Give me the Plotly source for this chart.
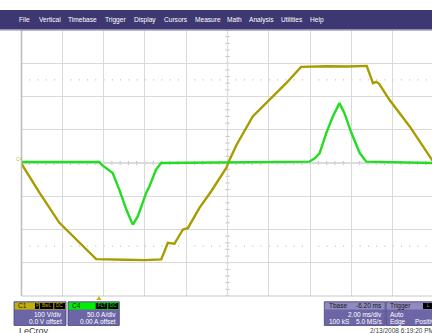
import plotly.graph_objects as go

# Screen time in ms relative to trigger (2 ms/div, trigger 6.2 ms left of centre)
c1_t = [-3.8, -2.9, -1.94, -0.96, -0.16, 1.2, 2.2, 2.99, 3.31, 3.63, 4.04, 4.28,
        4.84, 5.41, 6.14, 6.30, 6.64, 7.42, 8.24, 9.04, 9.76, 11.0, 12.0, 12.94,
        13.24, 13.40, 13.54, 14.04, 15.02, 15.98, 16.2]
c1_volts = [0, -90, -180, -240, -289, -291, -292, -290, -240, -243, -200, -196,
            -135, -85, -15, 10, 55, 140, 190, 240, 289, 291, 290, 292,
            240, 244, 238, 190, 110, 20, 0]

c4_t = [-3.8, 0.0, 0.1, 0.64, 0.96, 1.30, 1.54, 1.62, 1.86, 2.26, 2.42, 2.74,
        2.98, 10.16, 10.44, 10.66, 10.98, 11.30, 11.62, 11.86, 12.2, 12.6,
        12.92, 16.2]
c4_amps = [1.5, 1.5, -2.5, -15, -40, -70, -87.5, -92.5, -80, -45, -35, -10,
           0, 2, 7.5, 15, 45, 70, 90, 75, 45, 15, 2, 0]

menu_items = ["File", "Vertical", "Timebase", "Trigger", "Display", "Cursors",
              "Measure", "Math", "Analysis", "Utilities", "Help"]
menu_x = [16.7, 36.7, 65.7, 103.3, 131.7, 161.7, 192.7, 225, 246.7, 279.3, 308.3]

W, H = 432, 333
ML, MR, MT, MB = 21, 0, 30, 36.5
PW, PH = W - ML - MR, H - MT - MB

X0, X1 = -3.8, 16.1
CENTER_T = 6.2


def px(x):
    return (x - ML) / PW


def py(y):
    return (H - MB - y) / PH


fig = go.Figure()

fig.add_trace(go.Scatter(x=c1_t, y=c1_volts, mode="lines", yaxis="y",
                         line=dict(color="#a89c00", width=2.4), hoverinfo="skip"))
fig.add_trace(go.Scatter(x=c4_t, y=c4_amps, mode="lines", yaxis="y2",
                         line=dict(color="#22dd22", width=2.4), hoverinfo="skip"))

shapes = []
GRID = "#dadada"
# centre cross
shapes.append(dict(type="line", xref="x", yref="y", x0=X0, x1=X1, y0=0, y1=0,
                   line=dict(color="#bdbdbd", width=1), layer="below"))
shapes.append(dict(type="line", xref="x", yref="y", x0=CENTER_T, x1=CENTER_T,
                   y0=-400, y1=400, line=dict(color="#bdbdbd", width=1), layer="below"))
# minor ticks on centre cross
k = 0
while X0 + 0.4 * k <= X1:
    tx = X0 + 0.4 * k
    shapes.append(dict(type="line", xref="x", yref="y", x0=tx, x1=tx, y0=-6, y1=6,
                       line=dict(color="#bdbdbd", width=1), layer="below"))
    k += 1
for k in range(-20, 21):
    ty = 20 * k
    shapes.append(dict(type="line", xref="x", yref="y", x0=CENTER_T - 0.1,
                       x1=CENTER_T + 0.1, y0=ty, y1=ty,
                       line=dict(color="#bdbdbd", width=1), layer="below"))
# dotted level lines
for lv in (250, -250):
    shapes.append(dict(type="line", xref="x", yref="y", x0=X0 + 0.4, x1=X1, y0=lv, y1=lv,
                       line=dict(color="#b0b0b0", width=1, dash="1px,7.26px"), layer="below"))
# frame
shapes.append(dict(type="line", xref="paper", yref="paper", x0=px(21.5), x1=px(21.5),
                   y0=0, y1=1, line=dict(color="#bcbcbc", width=1.5)))
shapes.append(dict(type="line", xref="paper", yref="paper", x0=px(21.5), x1=1,
                   y0=0, y1=0, line=dict(color="#c8c8c8", width=1)))
shapes.append(dict(type="line", xref="paper", yref="paper", x0=px(21.5), x1=1,
                   y0=1, y1=1, line=dict(color="#d6d6d6", width=1)))
# menu bar
shapes.append(dict(type="rect", xref="paper", yref="paper", x0=px(0), x1=px(W),
                   y0=py(29.5), y1=py(10), fillcolor="#3e3872", line=dict(width=0)))
shapes.append(dict(type="rect", xref="paper", yref="paper", x0=px(0), x1=px(W),
                   y0=py(30.5), y1=py(29.5), fillcolor="#8a86b8", line=dict(width=0)))
# trigger marker
shapes.append(dict(type="path", xref="paper", yref="paper",
                   path=f"M {px(96.5)} {py(300.5)} L {px(101.5)} {py(300.5)} L {px(99)} {py(296.5)} Z",
                   fillcolor="#c8b400", line=dict(width=0)))


def box(x0, x1, head_col):
    shapes.append(dict(type="rect", xref="paper", yref="paper", x0=px(x0), x1=px(x1),
                       y0=py(326), y1=py(302.3), fillcolor="#6c66a6",
                       line=dict(color="#4a457e", width=0.8)))
    if head_col:
        shapes.append(dict(type="rect", xref="paper", yref="paper", x0=px(x0 + 0.7),
                           x1=px(x1 - 0.7), y0=py(310), y1=py(303), fillcolor=head_col,
                           line=dict(width=0)))


def tag(x0, x1):
    shapes.append(dict(type="rect", xref="paper", yref="paper", x0=px(x0), x1=px(x1),
                       y0=py(309.5), y1=py(303.5), fillcolor="#000000", line=dict(width=0)))


box(14, 66, "#c4b000")
box(68, 119.3, "#00ee00")
box(324.3, 385.3, "#8f8ac0")
box(386, 440, "#8f8ac0")
tag(35, 39.3)
tag(40, 53.3)
tag(54.3, 65)
tag(95.7, 107.3)
tag(108.3, 118.3)
tag(423, 433)

ann = []
FONT = "Liberation Sans"


def text(x, y, s, size=6.5, color="white", anchor="left"):
    ann.append(dict(x=px(x), y=py(y), xref="paper", yref="paper", text=s,
                    showarrow=False, xanchor=anchor, yanchor="middle",
                    font=dict(family=FONT, size=size, color=color)))


for s, x in zip(menu_items, menu_x):
    text(x, 19.5, s, 6.6)

text(13.5, 159, "C4", 5, "#b8c040")

text(16, 306.5, "C1", 6.5, "#222222")
text(37.2, 306.5, "P", 4.6, "#c4b000", "center")
text(46.7, 306.5, "BwL", 4.6, "#c4b000", "center")
text(59.7, 306.5, "DC", 4.6, "#c4b000", "center")
text(64, 315, "100 V/div", 6.5, "white", "right")
text(64, 322.5, "0.0 V offset", 6.5, "white", "right")

text(70, 306.5, "C4", 6.5, "#222222")
text(101.5, 306.5, "FLT", 4.6, "#00ee00", "center")
text(113.3, 306.5, "DC", 4.6, "#00ee00", "center")
text(117.5, 315, "50.0 A/div", 6.5, "white", "right")
text(117.5, 322.5, "0.00 A offset", 6.5, "white", "right")

text(326.5, 306.5, "Tbase", 6.5, "#1a1a1a")
text(384, 306.5, "-6.20 ms", 6.5, "#1a1a1a", "right")
text(384, 315, "2.00 ms/div", 6.5, "white", "right")
text(326.5, 322.5, "100 kS", 6.5)
text(384, 322.5, "5.0 MS/s", 6.5, "white", "right")
text(388, 306.5, "Trigger", 6.5, "#1a1a1a")
text(425, 306.5, "L", 4.6, "#8f8ac0")
text(388, 315, "Auto", 6.5)
text(388, 322.5, "Edge", 6.5)
text(413, 322.5, "Positive", 6.5)

text(17, 331.5, "LeCroy", 9, "#3a3a3a")
text(367.5, 331, "2/13/2008 6:19:20 PM", 6.5, "#444444")

fig.update_layout(
    width=W, height=H,
    margin=dict(l=ML, r=MR, t=MT, b=MB, pad=0),
    paper_bgcolor="white", plot_bgcolor="white",
    showlegend=False,
    xaxis=dict(range=[X0, X1], tick0=X0, dtick=2, showgrid=True, gridcolor=GRID,
               gridwidth=1, zeroline=False, showticklabels=False, showline=False,
               ticks=""),
    yaxis=dict(range=[-400, 400], dtick=100, showgrid=True, gridcolor=GRID,
               gridwidth=1, zeroline=False, showticklabels=False, showline=False,
               ticks=""),
    yaxis2=dict(range=[-200, 200], overlaying="y", showgrid=False, zeroline=False,
                showticklabels=False, showline=False, ticks=""),
    shapes=shapes,
    annotations=ann,
)

fig.write_html("out.html")
